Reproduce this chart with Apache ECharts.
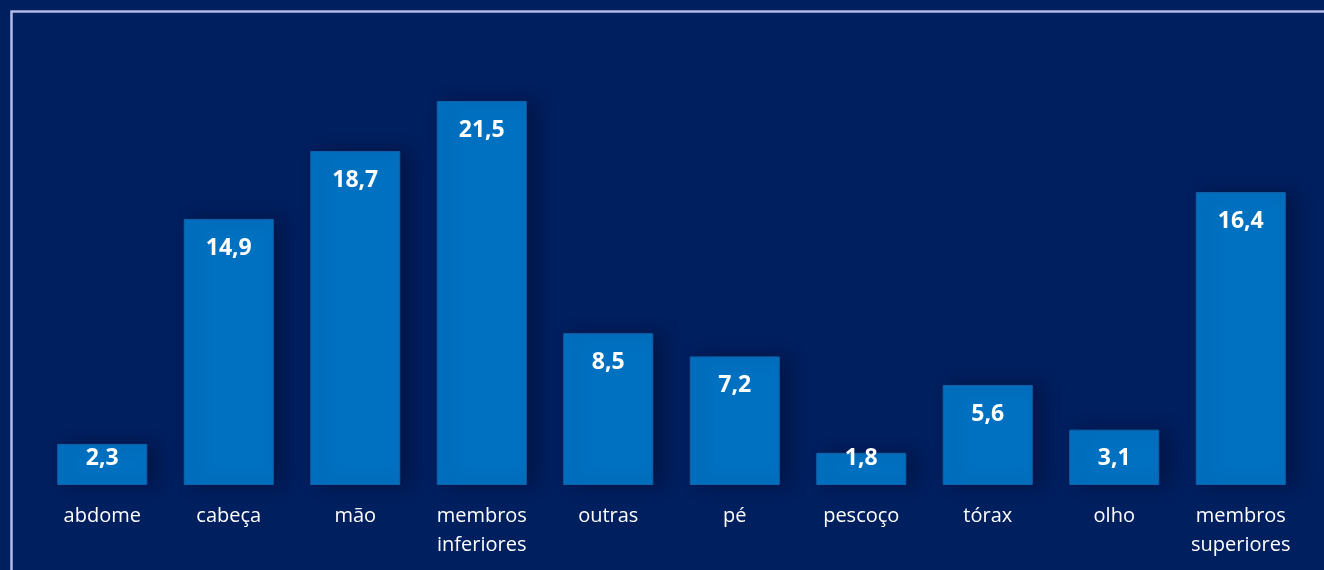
<!DOCTYPE html>
<html>
<head>
<meta charset="utf-8">
<script src="https://cdn.jsdelivr.net/npm/echarts@6/dist/echarts.min.js"></script>
<style>
    html, body {margin: 0; padding: 0; background: #001f5f;}
    #chart {width: 1324px; height: 570px;}
</style>
</head>
<body>
<div id="chart"></div>
<script>
// categorias e valores (%)
const categories = ['abdome', 'cabeça', 'mão', 'membros\ninferiores', 'outras', 'pé',
    'pescoço', 'tórax', 'olho', 'membros\nsuperiores'];
const values = [2.3, 14.9, 18.7, 21.5, 8.5, 7.2, 1.8, 5.6, 3.1, 16.4];

const fmt = v => v.toFixed(1).replace('.', ',');

let chart = echarts.init(document.getElementById('chart'));

let option = {
    backgroundColor: '#001f5f',
    animation: false,
    textStyle: {fontFamily: '"Open Sans", "Noto Sans", sans-serif'},
    graphic: [{
        type: 'rect',
        left: 9,
        top: 9,
        shape: {width: 1400, height: 700},
        style: {fill: 'none', stroke: '#b4b8e6', lineWidth: 2.5},
        silent: true
    }],
    grid: {left: 39, right: 20, top: 38.5, bottom: 85},
    xAxis: {
        type: 'category',
        data: categories,
        axisLine: {show: false},
        axisTick: {show: false},
        axisLabel: {
            color: '#ffffff',
            fontSize: 20,
            lineHeight: 29,
            margin: 17,
            interval: 0
        }
    },
    yAxis: {
        type: 'value',
        min: 0,
        max: 25,
        show: false,
        splitLine: {show: false}
    },
    series: [{
        type: 'bar',
        barWidth: 90,
        data: values.map(v => {
            let item = {value: v};
            // rótulos de barras pequenas ficam presos perto da base
            if (v < 4) {
                item.label = {position: 'insideBottom', distance: 15};
            }
            return item;
        }),
        itemStyle: {
            color: '#0070c0',
            borderColor: '#1560a8',
            borderWidth: 1,
            shadowColor: 'rgba(0, 12, 45, 0.4)',
            shadowBlur: 16,
            shadowOffsetX: 10
        },
        label: {
            show: true,
            position: 'insideTop',
            distance: 18,
            color: '#ffffff',
            fontWeight: 'bold',
            fontSize: 23,
            formatter: p => fmt(p.value)
        }
    }]
};

chart.setOption(option);
</script>
</body>
</html>
